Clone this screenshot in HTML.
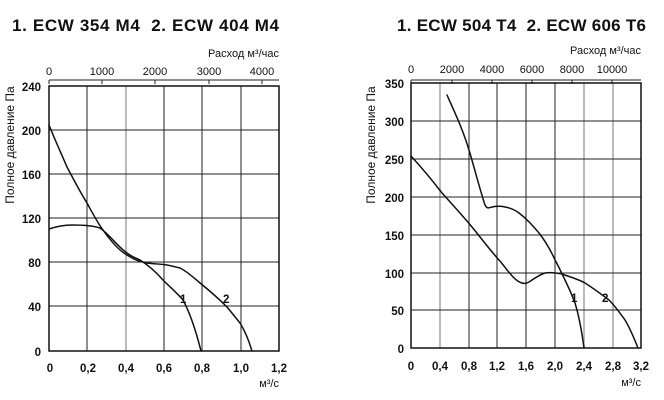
<!DOCTYPE html>
<html><head><meta charset="utf-8"><style>
body{margin:0;background:#fff}
svg{display:block}
text{font-family:"Liberation Sans",sans-serif;fill:#111}
.t{font-weight:bold;font-size:17px}
.k{font-size:11.5px;font-weight:bold}
.s{font-size:11px}
.y{font-size:12px}
.g{stroke:#222;stroke-width:1}
.gg{stroke:#bbb;stroke-width:2}
.c{fill:none;stroke:#111;stroke-width:1.5;stroke-linejoin:round;stroke-linecap:round}
</style></head><body>
<svg width="664" height="400" viewBox="0 0 664 400">
<!-- LEFT -->
<text class="t" x="12" y="31" textLength="267" lengthAdjust="spacing">1. ECW 354 M4&#160;&#160;2. ECW 404 M4</text>
<text class="s" x="279" y="57" text-anchor="end">Расход м³/час</text>
<line class="g" x1="49" y1="80" x2="279" y2="80"/>
<g class="g"><line x1="49" y1="80" x2="49" y2="84"/><line x1="102" y1="80" x2="102" y2="84"/><line x1="155" y1="80" x2="155" y2="84"/><line x1="209" y1="80" x2="209" y2="84"/><line x1="262" y1="80" x2="262" y2="84"/></g>
<g class="s" text-anchor="middle"><text x="49" y="75">0</text><text x="102" y="75">1000</text><text x="155" y="75">2000</text><text x="209" y="75">3000</text><text x="262" y="75">4000</text></g>
<line class="gg" x1="126" y1="86" x2="126" y2="351"/>
<g class="g">
<line x1="87" y1="86" x2="87" y2="351"/><line x1="164" y1="86" x2="164" y2="351"/><line x1="202" y1="86" x2="202" y2="351"/><line x1="241" y1="86" x2="241" y2="351"/>
<line x1="49" y1="130" x2="279" y2="130"/><line x1="49" y1="174" x2="279" y2="174"/><line x1="49" y1="218" x2="279" y2="218"/><line x1="49" y1="262" x2="279" y2="262"/><line x1="49" y1="306" x2="279" y2="306"/>
</g>
<rect x="49" y="86" width="230" height="265" fill="none" stroke="#111" stroke-width="1.5"/>
<g class="k" text-anchor="end"><text x="41" y="91">240</text><text x="41" y="135">200</text><text x="41" y="179">160</text><text x="41" y="223">120</text><text x="41" y="267">80</text><text x="41" y="311">40</text><text x="41" y="356">0</text></g>
<g class="k" text-anchor="middle"><text x="50" y="372">0</text><text x="88" y="372">0,2</text><text x="126" y="372">0,4</text><text x="164" y="372">0,6</text><text x="202" y="372">0,8</text><text x="241" y="372">1,0</text><text x="279" y="372">1,2</text></g>
<text class="s" x="279" y="387" text-anchor="end">м³/с</text>
<text class="y" transform="translate(14,145) rotate(-90)" text-anchor="middle">Полное давление Па</text>
<path class="c" d="M49,229 C58,226 65,225 72,225 C85,225 94,226 100,228 C110,235 118,247 127,253 C132,257 136,258 140,260 C148,265 156,272 163,280 C171,288 177,293 183,300 C190,313 196,331 201,351"/>
<path class="c" d="M49,125 C55,140 61,153 67,167 C74,180 80,192 87,203 C92,212 97,222 103,230 C110,240 118,250 127,255 C133,259 140,262 147,263 C155,264 161,264 167,265 C172,266 176,267 180,268 C188,272 194,278 200,283 C210,291 219,299 227,307 C232,313 236,318 240,323 C245,331 249,341 252,351"/>
<text class="k" x="180" y="303">1</text><text class="k" x="223" y="303">2</text>
<!-- RIGHT -->
<text class="t" x="397" y="31" textLength="249" lengthAdjust="spacing">1. ECW 504 T4&#160;&#160;2. ECW 606 T6</text>
<text class="s" x="641" y="54" text-anchor="end">Расход м³/час</text>
<line class="g" x1="411" y1="80" x2="641" y2="80"/>
<g class="g"><line x1="411" y1="80" x2="411" y2="84"/><line x1="452" y1="80" x2="452" y2="84"/><line x1="492" y1="80" x2="492" y2="84"/><line x1="532" y1="80" x2="532" y2="84"/><line x1="572" y1="80" x2="572" y2="84"/><line x1="612" y1="80" x2="612" y2="84"/></g>
<g class="s" text-anchor="middle"><text x="411" y="73">0</text><text x="452" y="73">2000</text><text x="492" y="73">4000</text><text x="532" y="73">6000</text><text x="572" y="73">8000</text><text x="612" y="73">10000</text></g>
<g class="gg"><line x1="440" y1="83" x2="440" y2="348"/><line x1="584" y1="83" x2="584" y2="348"/><line x1="613" y1="83" x2="613" y2="348"/></g>
<g class="g">
<line x1="469" y1="83" x2="469" y2="348"/><line x1="497" y1="83" x2="497" y2="348"/><line x1="526" y1="83" x2="526" y2="348"/><line x1="555" y1="83" x2="555" y2="348"/>
<line x1="411" y1="121" x2="641" y2="121"/><line x1="411" y1="159" x2="641" y2="159"/><line x1="411" y1="197" x2="641" y2="197"/><line x1="411" y1="235" x2="641" y2="235"/><line x1="411" y1="273" x2="641" y2="273"/><line x1="411" y1="310" x2="641" y2="310"/>
</g>
<rect x="411" y="83" width="230" height="265" fill="none" stroke="#111" stroke-width="1.5"/>
<g class="k" text-anchor="end"><text x="404" y="88">350</text><text x="404" y="126">300</text><text x="404" y="164">250</text><text x="404" y="202">200</text><text x="404" y="240">150</text><text x="404" y="278">100</text><text x="404" y="315">50</text><text x="404" y="353">0</text></g>
<g class="k" text-anchor="middle"><text x="411" y="370">0</text><text x="440" y="370">0,4</text><text x="469" y="370">0,8</text><text x="497" y="370">1,2</text><text x="526" y="370">1,6</text><text x="555" y="370">2,0</text><text x="584" y="370">2,4</text><text x="613" y="370">2,8</text><text x="641" y="370">3,2</text></g>
<text class="s" x="641" y="386" text-anchor="end">м³/с</text>
<text class="y" transform="translate(375,145) rotate(-90)" text-anchor="middle">Полное давление Па</text>
<path class="c" d="M447,95 C455,113 463,130 469,150 C475,170 480,190 485,205 C487,209 489,208 492,207 C497,206 501,206 505,207 C511,208 515,210 519,213 C527,219 533,226 539,233 C546,242 551,251 555,260 C559,267 562,274 565,280 C569,288 572,295 575,303 C579,316 582,333 584,348"/>
<path class="c" d="M411,156 C422,168 432,180 442,193 C452,204 462,215 472,227 C481,238 490,250 499,260 C507,269 514,281 522,283 C525,284 527,283 529,282 C535,278 539,275 545,273 C551,272 557,273 562,274 C570,277 578,279 585,283 C593,288 601,294 609,300 C615,306 620,313 625,320 C630,328 634,338 638,348"/>
<text class="k" x="571" y="302">1</text><text class="k" x="602" y="302">2</text>
</svg>
</body></html>
